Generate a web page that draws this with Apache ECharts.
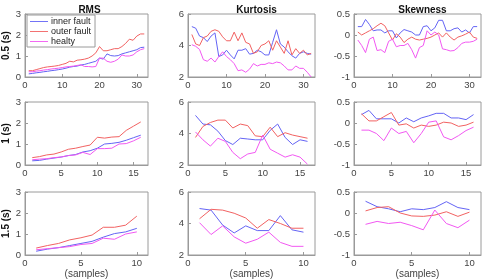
<!DOCTYPE html>
<html><head><meta charset="utf-8">
<script src="https://cdn.jsdelivr.net/npm/echarts@6/dist/echarts.min.js"></script>
<style>html,body{margin:0;padding:0;background:#fff}#c{width:486px;height:280px}</style>
</head><body><div id="c"></div>
<script>
// ---- data ----
const seriesNames = ['inner fault', 'outer fault', 'healty'];
const colTitles = ['RMS', 'Kurtosis', 'Skewness'];
const rowNames = ['0.5 (s)', '1 (s)', '1.5 (s)'];

// row 1 : 0.5 s windows (32 samples)
const rms05_inner = [0.15,0.17,0.2,0.22,0.25,0.27,0.3,0.32,0.35,0.38,0.42,0.47,0.5,0.52,0.57,0.6,0.65,0.7,0.75,0.9,0.85,1.1,1.02,1.0,1.02,1.1,1.15,1.2,1.25,1.3,1.4,1.42];
const rms05_outer = [0.3,0.3,0.35,0.4,0.45,0.48,0.5,0.52,0.55,0.6,0.65,0.75,0.72,0.8,0.82,0.85,0.9,1.0,1.15,1.45,1.25,1.25,1.3,1.35,1.35,1.45,1.6,1.8,1.75,1.95,2.05,2.05];
const rms05_healty = [0.25,0.25,0.28,0.3,0.33,0.35,0.38,0.4,0.42,0.45,0.48,0.5,0.52,0.55,0.58,0.5,0.5,0.48,0.5,0.9,0.9,0.75,0.7,0.75,0.85,1.05,1.0,1.0,1.05,1.2,1.3,1.35];
const kur05_inner = [5.2,5.1,4.6,4.5,4.25,4.6,4.8,3.3,3.4,3.7,3.4,3.15,3.7,3.7,3.8,3.45,3.5,3.7,3.6,3.4,3.4,4.2,5.0,4.1,3.9,3.6,3.35,3.2,3.5,3.6,3.5,3.45];
const kur05_outer = [4.7,4.1,4.0,4.5,4.6,4.9,5.0,4.9,4.55,4.3,4.3,4.85,4.3,4.8,4.2,4.1,3.5,3.6,4.0,4.1,4.3,3.7,4.3,3.9,3.5,4.3,3.4,3.8,3.5,3.7,3.4,3.5];
const kur05_healty = [4.05,3.95,3.75,3.1,3.0,3.2,2.95,3.3,3.6,3.3,3.1,2.85,2.4,2.45,2.3,2.5,2.85,2.7,2.8,2.8,2.9,2.85,2.95,2.9,2.7,2.45,2.45,2.7,2.55,2.55,2.3,2.0];
const skw05_inner = [0.2,0.2,0.37,0.25,0.1,0.12,0.12,0.05,0.1,0.1,-0.07,0.05,0.13,0.1,0.07,0.0,0.0,0.2,0.22,0.1,0.17,0.35,0.35,0.1,0.1,0.15,0.17,0.07,0.12,0.05,0.2,0.2];
const skw05_outer = [0.07,0.0,0.05,0.1,0.15,0.22,0.28,0.22,0.05,-0.12,0.03,-0.05,-0.18,-0.1,-0.05,-0.1,-0.12,-0.1,-0.08,-0.05,0.0,0.05,-0.05,0.05,-0.05,-0.12,-0.05,-0.02,0.02,0.07,-0.05,-0.08];
const skw05_healty = [-0.12,-0.25,-0.42,-0.1,-0.05,-0.37,-0.35,-0.42,-0.15,-0.1,-0.28,-0.25,-0.25,-0.2,-0.35,-0.55,-0.3,-0.25,0.1,0.0,0.07,0.0,-0.33,-0.35,-0.38,-0.37,-0.3,-0.2,-0.17,-0.17,-0.15,-0.1];

// row 2 : 1 s windows (16 samples)
const rms1_inner = [0.2,0.22,0.28,0.33,0.38,0.45,0.5,0.62,0.68,0.8,1.0,1.03,1.08,1.18,1.3,1.42];
const rms1_outer = [0.35,0.4,0.48,0.52,0.62,0.75,0.8,0.88,0.95,1.32,1.28,1.33,1.35,1.65,1.85,2.05];
const rms1_healty = [0.25,0.28,0.3,0.35,0.38,0.45,0.48,0.6,0.5,0.78,0.78,0.8,1.0,1.02,1.15,1.32];
const kur1_inner = [5.15,4.6,4.55,4.15,3.55,3.3,3.7,3.65,3.6,3.6,4.2,4.6,3.75,3.3,3.6,3.5];
const kur1_outer = [3.75,4.45,4.7,4.85,4.85,4.35,4.6,4.5,3.85,3.8,4.4,3.8,4.05,3.9,3.8,3.7];
const kur1_healty = [4.1,3.6,3.2,3.7,3.5,2.8,2.4,2.7,2.8,3.9,3.0,2.75,2.5,2.65,2.5,2.05];
const skw1_inner = [0.2,0.3,0.1,0.1,0.1,0.0,0.12,0.03,0.12,0.17,0.23,0.23,0.12,0.12,0.08,0.2];
const skw1_outer = [0.22,0.05,0.05,0.15,0.25,-0.05,-0.02,-0.12,-0.05,-0.08,-0.05,0.02,0.0,-0.08,-0.05,0.02];
const skw1_healty = [-0.17,-0.17,-0.25,-0.42,-0.12,-0.25,-0.2,-0.47,-0.25,0.02,0.05,-0.33,-0.4,-0.3,-0.18,-0.1];

// row 3 : 1.5 s windows (10 samples)
const rms15_inner = [0.18,0.28,0.35,0.45,0.55,0.65,0.85,1.02,1.1,1.27];
const rms15_outer = [0.33,0.45,0.55,0.72,0.82,0.95,1.32,1.32,1.42,1.85];
const rms15_healty = [0.25,0.3,0.35,0.4,0.5,0.55,0.8,0.75,1.0,1.1];
const kur15_inner = [4.95,4.85,3.9,3.4,3.85,3.55,3.55,4.5,3.6,3.45];
const kur15_outer = [4.3,4.9,4.85,4.65,4.35,3.7,4.25,4.0,3.7,3.7];
const kur15_healty = [4.05,3.3,3.85,3.15,2.75,3.0,3.45,2.8,2.55,2.55];
const skw15_inner = [0.28,0.15,0.1,0.03,0.1,0.08,0.13,0.27,0.13,0.08];
const skw15_outer = [0.05,0.13,0.15,0.0,-0.07,-0.08,-0.05,0.03,-0.08,0.02];
const skw15_healty = [-0.27,-0.2,-0.25,-0.22,-0.3,-0.4,0.07,-0.25,-0.35,-0.17];

// axis settings
const xMax = [33, 17, 11];
const xInterval = [10, 5, 5];
const yMin = [0, 2, -1];
const yMax = [3, 6, 0.5];
const yInterval = [1, 2, 0.5];

const grid = [
  [rms05_inner, rms05_outer, rms05_healty, kur05_inner, kur05_outer, kur05_healty, skw05_inner, skw05_outer, skw05_healty],
  [rms1_inner, rms1_outer, rms1_healty, kur1_inner, kur1_outer, kur1_healty, skw1_inner, skw1_outer, skw1_healty],
  [rms15_inner, rms15_outer, rms15_healty, kur15_inner, kur15_outer, kur15_healty, skw15_inner, skw15_outer, skw15_healty]
];

// ---- layout ----
const colors = ['#6464f5', '#f26262', '#f258f2'];
const colL = [21, 188, 354];
const colW = 127;
const rowT = [14, 102, 192];
const rowH = 63;
const FONT = '"Liberation Sans", Arial, sans-serif';
const axisGray = '#9a9a9a';
const labelColor = '#444';

const grids = [], xAxes = [], yAxes = [], series = [], titles = [];
for (let c = 0; c < 3; c++) {
  titles.push({
    text: colTitles[c], left: colL[c] + colW / 2, top: 0, textAlign: 'center',
    textStyle: {fontFamily: FONT, fontSize: 10, fontWeight: 'bold', color: '#111'}
  });
}
let idx = 0;
for (let r = 0; r < 3; r++) {
  for (let c = 0; c < 3; c++) {
    grids.push({left: colL[c], top: rowT[r], width: colW, height: rowH,
      show: true, borderColor: axisGray, borderWidth: 1, backgroundColor: '#fff'});
    xAxes.push({
      type: 'value', gridIndex: idx, min: 0, max: xMax[r], interval: xInterval[r],
      name: r === 2 ? '(samples)' : '', nameLocation: 'middle', nameGap: 13,
      nameTextStyle: {fontFamily: FONT, fontSize: 10, color: labelColor},
      axisLine: {show: true, onZero: false, lineStyle: {color: axisGray, width: 1}},
      axisTick: {show: true, inside: true, length: 3, lineStyle: {color: axisGray}},
      splitLine: {show: false},
      axisLabel: {fontFamily: FONT, fontSize: 9.5, color: labelColor, margin: 3, showMaxLabel: false}
    });
    yAxes.push({
      type: 'value', gridIndex: idx, min: yMin[c], max: yMax[c], interval: yInterval[c],
      name: c === 0 ? rowNames[r] : '', nameLocation: 'middle', nameGap: 14, nameRotate: 90,
      nameTextStyle: {fontFamily: FONT, fontSize: 10, fontWeight: 'bold', color: '#111'},
      axisLine: {show: true, onZero: false, lineStyle: {color: axisGray, width: 1}},
      axisTick: {show: true, inside: true, length: 3, lineStyle: {color: axisGray}},
      splitLine: {show: false},
      axisLabel: {fontFamily: FONT, fontSize: 9.5, color: labelColor, margin: 4}
    });
    for (let s = 0; s < 3; s++) {
      const vals = grid[r][c * 3 + s];
      series.push({
        name: seriesNames[s], type: 'line', xAxisIndex: idx, yAxisIndex: idx,
        data: vals.map((v, i) => [i + 1, v]),
        showSymbol: false, symbol: 'none', color: colors[s],
        lineStyle: {width: 1, color: colors[s]}, z: 3
      });
    }
    idx++;
  }
}

const chart = echarts.init(document.getElementById('c'), null, {renderer: 'canvas'});
chart.setOption({
  animation: false,
  backgroundColor: '#fff',
  title: titles,
  legend: {
    data: seriesNames, orient: 'vertical', left: 27, top: 15,
    backgroundColor: '#fff', borderColor: axisGray, borderWidth: 1,
    padding: [2, 4, 1, 3], itemGap: 1, itemWidth: 18, itemHeight: 9,
    icon: 'path://M0,5 L20,5 L20,6 L0,6 Z',
    textStyle: {fontFamily: FONT, fontSize: 9, color: '#222', padding: [0, 0, 0, -2]},
    selectedMode: false
  },
  grid: grids, xAxis: xAxes, yAxis: yAxes, series: series
});
</script></body></html>
